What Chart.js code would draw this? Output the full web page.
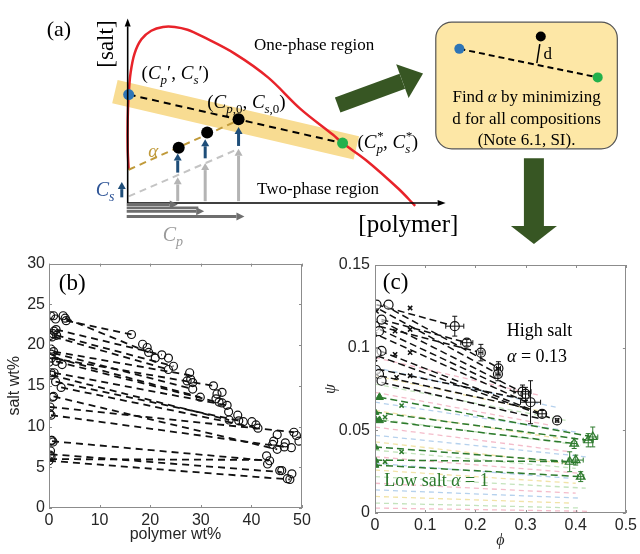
<!DOCTYPE html>
<html>
<head>
<meta charset="utf-8">
<script src="https://cdn.jsdelivr.net/npm/chart.js@4.4.0/dist/chart.umd.min.js"></script>
<style>
body { margin: 0; background: #fff; width: 640px; height: 554px; overflow: hidden; position: relative; }
canvas { position: absolute; }
#panelA { left: 0; top: 0; }
#panelB { left: 0; top: 250px; }
#panelC { left: 320px; top: 250px; }
</style>
</head>
<body>
<canvas id="panelB" width="320" height="304"></canvas>
<canvas id="panelC" width="320" height="304"></canvas>
<canvas id="panelA" width="640" height="250"></canvas>
<script>
// ---------- (a) schematic, arbitrary units ----------
const schemeBoundaryP = [0.1, 0.0, 0.0, 0.1, 0.3, 0.7, 1.4, 2.4, 3.6, 4.8, 6.1, 7.6, 10.9, 14.3, 17.6, 20.9, 21.9, 24.3, 27.6, 29.3];
const schemeBoundaryS = [3.5, 5.7, 8.7, 11.4, 13.7, 15.7, 17.2, 18.1, 18.5, 18.5, 18.2, 17.5, 15.7, 13.2, 9.9, 7.2, 6.3, 4.5, 1.5, -0.3];
const schemeTieP = [0.1, 21.9];
const schemeTieS = [11.4, 6.3];
const schemeBandP = [-1.3, 23.3];
const schemeBandS = [11.7, 5.8];
const schemeMixP = [5.2, 8.1, 11.3];
const schemeMixS = [5.8, 7.4, 8.8];
const schemeAlphaP = [0.1, 11.3];
const schemeAlphaS = [3.5, 8.7];
const schemeBaseP = [0.1, 11.3];
const schemeBaseS = [0.7, 5.7];
const boxLineP = [33.8, 47.9];
const boxLineS = [16.2, 13.2];
const boxDotP = [42.1];
const boxDotS = [17.5];
const boxDistP = [42.0, 41.7];
const boxDistS = [16.7, 14.7];

// ---------- (b) salt wt% vs polymer wt% ----------
const bLeftP = [0.3, 0.9, 1.3, 2.8, 3.2, 3.4, 0.3, 0.8, 1.4, 1.5, 0.6, 1.0, 0.4, 0.9, 0.4, 0.0, 0.5, 1.4, 2.6, 0.4, 1.0, 0.5, 1.3, 2.4, 0.9, 0.7, 0.2, 0.1, 0.4, 0.4, 0.8, 0.6, 0.3, 0.2, 0.4, 0.0];
const bLeftS = [23.6, 23.6, 23.2, 23.6, 23.3, 23.0, 21.2, 21.4, 21.9, 21.2, 21.0, 21.7, 19.5, 19.2, 18.9, 17.9, 18.4, 18.0, 17.6, 16.6, 16.6, 16.3, 15.5, 14.8, 13.7, 13.6, 12.4, 11.6, 11.4, 8.3, 8.1, 8.3, 7.0, 6.5, 6.3, 5.8];
const bRightP = [16.3, 18.5, 19.4, 19.7, 21.0, 22.3, 23.6, 23.6, 24.6, 27.3, 27.8, 28.0, 28.4, 28.4, 29.9, 32.5, 33.0, 33.2, 33.6, 34.2, 34.2, 35.2, 35.5, 35.6, 37.3, 37.5, 38.4, 40.1, 40.9, 41.3, 44.4, 44.2, 45.1, 45.1, 46.7, 46.5, 47.9, 48.4, 48.9, 49.4, 43.0, 43.6, 43.2, 45.6, 46.0, 47.1, 47.6, 48.0];
const bRightS = [21.3, 20.1, 19.7, 19.1, 18.4, 18.8, 18.4, 17.0, 17.4, 15.6, 16.6, 15.8, 15.4, 14.6, 13.6, 15.0, 13.4, 14.0, 13.0, 12.9, 14.2, 12.6, 11.8, 10.8, 11.4, 10.7, 10.6, 10.6, 10.2, 9.8, 8.2, 7.8, 9.0, 7.2, 8.0, 7.5, 7.4, 9.3, 8.9, 8.2, 6.4, 5.8, 5.4, 4.6, 4.6, 3.6, 3.5, 4.2];
const bTieP1 = [3.4, 3.2, 1.4, 1.5, 1.0, 1.0, 0.9, 1.4, 1.4, 0.5, 1.0, 0.5, 1.3, 2.4, 0.9, 0.2, 0.4, 0.6, 0.3, 0.2, 0.0];
const bTieS1 = [23.0, 23.3, 21.9, 21.2, 21.0, 19.2, 19.0, 18.4, 18.0, 18.4, 16.6, 16.3, 15.5, 14.8, 13.7, 12.4, 11.4, 8.2, 6.6, 6.0, 5.8];
const bTieP2 = [16.3, 19.7, 22.3, 24.6, 23.6, 27.8, 28.4, 29.9, 33.2, 32.5, 35.2, 35.6, 38.4, 41.3, 45.1, 48.4, 46.5, 43.4, 46.0, 43.6, 47.6];
const bTieS2 = [21.3, 19.1, 18.8, 17.4, 17.0, 16.3, 14.6, 13.6, 13.0, 15.0, 12.6, 10.8, 10.6, 9.8, 7.2, 9.3, 7.5, 5.8, 4.4, 5.9, 3.5];

// ---------- (c) psi vs phi ----------
const cHighLeftPhi = [0.003, 0.027, 0.013, 0.000, 0.008, 0.013, 0.003, 0.002, 0.008, 0.013];
const cHighLeftPsi = [0.126, 0.126, 0.117, 0.113, 0.110, 0.098, 0.097, 0.0865, 0.084, 0.080];
const cHighCrossPhi = [0.070, 0.003, 0.040, 0.070, 0.000, 0.040, 0.070, 0.000, 0.043, 0.070, 0.003];
const cHighCrossPsi = [0.124, 0.122, 0.110, 0.111, 0.108, 0.096, 0.097, 0.093, 0.082, 0.083, 0.084];
const cHighRightPhi = [0.159, 0.183, 0.211, 0.246, 0.245, 0.294, 0.300, 0.310, 0.333, 0.363];
const cHighRightPsi = [0.113, 0.103, 0.097, 0.0875, 0.084, 0.0734, 0.072, 0.067, 0.060, 0.056];
const cHighRightErrPhi = [0.018, 0.012, 0.004, 0.004, 0.004, 0.017, 0.006, 0.020, 0.008, 0.003];
const cHighRightErrPsi = [0.006, 0.002, 0.005, 0.004, 0.004, 0.004, 0.004, 0.013, 0.002, 0.001];
const cLowLeftPhi = [0.009, 0.000, 0.000, 0.009, 0.000, 0.000, 0.000];
const cLowLeftPsi = [0.070, 0.061, 0.057, 0.056, 0.040, 0.032, 0.029];
const cLowCrossPhi = [0.053, 0.020, 0.053, 0.020];
const cLowCrossPsi = [0.065, 0.058, 0.037, 0.031];
const cLowRightPhi = [0.397, 0.425, 0.434, 0.388, 0.400, 0.410];
const cLowRightPsi = [0.042, 0.044, 0.046, 0.031, 0.032, 0.022];
const cLowRightErrPhi = [0.005, 0.010, 0.010, 0.015, 0.015, 0.006];
const cLowRightErrPsi = [0.003, 0.004, 0.006, 0.006, 0.003, 0.003];
const cHighTieP1 = [0.016, 0.010, 0.003, 0.013, 0.008, 0.013, 0.010, 0.010, 0.010, 0.005, 0.005, 0.010, 0.013];
const cHighTieS1 = [0.126, 0.123, 0.126, 0.117, 0.113, 0.116, 0.111, 0.107, 0.098, 0.095, 0.087, 0.083, 0.079];
const cHighTieP2 = [0.245, 0.246, 0.159, 0.183, 0.211, 0.294, 0.300, 0.310, 0.333, 0.363, 0.294, 0.310, 0.330];
const cHighTieS2 = [0.088, 0.084, 0.113, 0.103, 0.097, 0.073, 0.070, 0.066, 0.060, 0.056, 0.069, 0.063, 0.057];
const cLowTieP1 = [0.009, 0.000, 0.009, 0.000, 0.000, 0.000];
const cLowTieS1 = [0.070, 0.061, 0.056, 0.040, 0.032, 0.029];
const cLowTieP2 = [0.434, 0.425, 0.397, 0.388, 0.400, 0.410];
const cLowTieS2 = [0.046, 0.044, 0.042, 0.031, 0.031, 0.022];
const cFaintS1 = [0.094, 0.088, 0.083, 0.078, 0.073, 0.067, 0.062, 0.057, 0.052, 0.047, 0.043, 0.038, 0.034, 0.030, 0.026, 0.022, 0.018, 0.014, 0.010, 0.006, 0.003];
const cFaintP2 = [0.33, 0.36, 0.34, 0.38, 0.35, 0.40, 0.37, 0.41, 0.39, 0.42, 0.38, 0.40, 0.41, 0.39, 0.40, 0.42, 0.40, 0.41, 0.39, 0.41, 0.43];
const cFaintS2 = [0.071, 0.064, 0.061, 0.056, 0.053, 0.049, 0.045, 0.041, 0.037, 0.034, 0.030, 0.027, 0.024, 0.021, 0.018, 0.015, 0.012, 0.009, 0.006, 0.003, 0.001];
const cFaintColors = ['rgba(240,160,180,0.7)', 'rgba(150,190,230,0.7)', 'rgba(235,215,130,0.7)', 'rgba(170,215,160,0.7)'];

Chart.defaults.animation = false;
const SERIF = '"Liberation Serif", "DejaVu Serif", serif';
const SANS = '"Liberation Sans", Arial, sans-serif';
const TXT = '#262626';
const GREEN = '#2d7a2d';

const pts = (xs, ys) => xs.map((x, i) => ({ x: x, y: ys[i] }));

function lineSet(x1, y1, x2, y2, color, width, dash, order) {
    return {
        data: [{ x: x1, y: y1 }, { x: x2, y: y2 }],
        showLine: true, pointRadius: 0, borderColor: color, borderWidth: width,
        borderDash: dash || [], order: order || 1, clip: false
    };
}

// rich text with italic / subscript parts
function richText(ctx, parts, cx, cy, size, color) {
    const font = p => (p.f === 'i' ? 'italic ' : '') + ((p.sub || p.sup) ? Math.round(size * 0.68) : size) + 'px ' + SERIF;
    const widths = parts.map(p => {
        ctx.font = font(p);
        let w = ctx.measureText(p.t).width;
        if (p.over) w = Math.max(w, ctx.measureText(p.over).width);
        return w;
    });
    let x = cx - widths.reduce((a, b) => a + b, 0) / 2;
    const base = cy + size * 0.33;
    ctx.fillStyle = color;
    ctx.textAlign = 'left';
    ctx.textBaseline = 'alphabetic';
    parts.forEach((p, i) => {
        ctx.font = font(p);
        const dy = p.sub ? size * 0.25 : p.sup ? -size * 0.38 : 0;
        ctx.fillText(p.t, x, base + dy);
        if (p.over) ctx.fillText(p.over, x, base - size * 0.42);
        x += widths[i];
    });
}

function arrow(ctx, x1, y1, x2, y2, color, w, hl, hw) {
    const a = Math.atan2(y2 - y1, x2 - x1);
    const bx = x2 - hl * Math.cos(a), by = y2 - hl * Math.sin(a);
    ctx.strokeStyle = color;
    ctx.lineWidth = w;
    ctx.lineCap = 'butt';
    ctx.setLineDash([]);
    ctx.beginPath(); ctx.moveTo(x1, y1); ctx.lineTo(bx, by); ctx.stroke();
    ctx.fillStyle = color;
    ctx.beginPath();
    ctx.moveTo(x2, y2);
    ctx.lineTo(bx + hw / 2 * Math.sin(a), by - hw / 2 * Math.cos(a));
    ctx.lineTo(bx - hw / 2 * Math.sin(a), by + hw / 2 * Math.cos(a));
    ctx.closePath(); ctx.fill();
}

// ---------- (a) plugin: box, arrows, labels ----------
const schemePlugin = {
    id: 'scheme',
    beforeDatasetsDraw(chart) {
        const { ctx, scales: { x, y } } = chart;
        const l = x.getPixelForValue(31.4), r = x.getPixelForValue(49.9);
        const t = y.getPixelForValue(19.0), b = y.getPixelForValue(5.7);
        ctx.save();
        ctx.fillStyle = '#fde7a6';
        ctx.strokeStyle = '#555';
        ctx.lineWidth = 1.2;
        ctx.beginPath();
        ctx.roundRect(l, t, r - l, b - t, 16);
        ctx.fill(); ctx.stroke();
        ctx.restore();
    },
    afterDatasetsDraw(chart) {
        const { ctx, scales: { x, y } } = chart;
        const X = v => x.getPixelForValue(v), Y = v => y.getPixelForValue(v);
        ctx.save();
        const arrows = [
            [0, 0, 0, 19.4, '#000', 1.6, 8, 6],
            [0, 0, 32.4, 0, '#000', 1.6, 8, 6],
            [5.1, 0.2, 5.1, 2.7, '#b4b4b4', 3, 7, 8],
            [7.9, 0.2, 7.9, 4.2, '#b4b4b4', 3, 7, 8],
            [11.3, 0.2, 11.3, 5.7, '#b4b4b4', 3, 7, 8],
            [5.1, 3.2, 5.1, 5.2, '#1f4e79', 3, 7, 8],
            [7.9, 4.7, 7.9, 6.7, '#1f4e79', 3, 7, 8],
            [11.3, 6.0, 11.3, 8.0, '#1f4e79', 3, 7, 8],
            [-0.6, 0.6, -0.6, 2.2, '#1f4e79', 3, 7, 8],
            [-0.1, -0.15, 5.1, -0.15, '#6e6e6e', 3, 8, 8],
            [-0.1, -0.85, 7.8, -0.85, '#6e6e6e', 3, 8, 8],
            [-0.1, -1.4, 11.9, -1.4, '#6e6e6e', 3, 8, 8],
            [21.4, 10.3, 30.1, 13.6, '#375623', 16, 22, 36],
            [41.4, 4.7, 41.4, -4.3, '#375623', 20, 18, 46]
        ];
        arrows.forEach(a => arrow(ctx, X(a[0]), Y(a[1]), X(a[2]), Y(a[3]), a[4], a[5], a[6], a[7]));
        // extra short bar under the first horizontal arrow
        ctx.strokeStyle = '#6e6e6e'; ctx.lineWidth = 2.5;
        ctx.beginPath(); ctx.moveTo(X(-0.1), Y(-0.5)); ctx.lineTo(X(7.2), Y(-0.5)); ctx.stroke();

        ctx.textAlign = 'center'; ctx.textBaseline = 'middle'; ctx.fillStyle = '#000';
        ctx.font = '22px ' + SERIF;
        ctx.fillText('(a)', X(-7.0), Y(18.2));
        ctx.font = '17px ' + SERIF;
        ctx.fillText('One-phase region', X(19.0), Y(16.5));
        ctx.fillText('Two-phase region', X(19.4), Y(1.4));
        ctx.font = '25px ' + SERIF;
        ctx.fillText('[polymer]', X(28.6), Y(-2.3));
        ctx.save();
        ctx.translate(X(-2.1), Y(16.7));
        ctx.rotate(-Math.PI / 2);
        ctx.font = '23px ' + SERIF;
        ctx.fillText('[salt]', 0, 0);
        ctx.restore();

        richText(ctx, [{ t: '(' }, { t: 'C', f: 'i' }, { t: 'p', f: 'i', sub: 1 }, { t: '′, ' }, { t: 'C', f: 'i' }, { t: 's', f: 'i', sub: 1 }, { t: '′)' }], X(4.85), Y(13.7), 19, '#000');
        richText(ctx, [{ t: '(' }, { t: 'C', f: 'i' }, { t: 'p', f: 'i', sub: 1 }, { t: ',0', sub: 1 }, { t: ', ' }, { t: 'C', f: 'i' }, { t: 's', f: 'i', sub: 1 }, { t: ',0', sub: 1 }, { t: ')' }], X(12.1), Y(10.6), 19, '#000');
        richText(ctx, [{ t: '(' }, { t: 'C', f: 'i' }, { t: 'p', f: 'i', sub: 1, over: '*' }, { t: ', ' }, { t: 'C', f: 'i' }, { t: 's', f: 'i', sub: 1, over: '*' }, { t: ')' }], X(26.5), Y(6.4), 19, '#000');
        richText(ctx, [{ t: 'α', f: 'i' }], X(2.6), Y(5.5), 19, '#c09a3a');
        richText(ctx, [{ t: 'C', f: 'i' }, { t: 's', f: 'i', sub: 1 }], X(-2.3), Y(1.4), 20, '#2f5597');
        richText(ctx, [{ t: 'C', f: 'i' }, { t: 'p', f: 'i', sub: 1 }], X(4.6), Y(-3.3), 20, '#9a9a9a');

        richText(ctx, [{ t: 'Find ' }, { t: 'α', f: 'i' }, { t: ' by minimizing' }], X(40.65), Y(11.2), 17, '#000');
        richText(ctx, [{ t: 'd for all compositions' }], X(40.65), Y(8.9), 17, '#000');
        richText(ctx, [{ t: '(Note 6.1, SI).' }], X(40.65), Y(6.7), 17, '#000');
        richText(ctx, [{ t: 'd' }], X(42.8), Y(15.7), 17, '#000');
        ctx.restore();
    }
};

new Chart(document.getElementById('panelA'), {
    type: 'scatter',
    data: {
        datasets: [
            { data: pts([schemeTieP[0]], [schemeTieS[0]]), pointRadius: 5.5, backgroundColor: '#2e75b6', borderWidth: 0, order: 0, clip: false },
            { data: pts([schemeTieP[1]], [schemeTieS[1]]), pointRadius: 5.5, backgroundColor: '#22b14c', borderWidth: 0, order: 0, clip: false },
            { data: pts(schemeMixP, schemeMixS), pointRadius: 6, backgroundColor: '#000', borderWidth: 0, order: 0, clip: false },
            { data: pts([boxLineP[0]], [boxLineS[0]]), pointRadius: 5, backgroundColor: '#2e75b6', borderWidth: 0, order: 0, clip: false },
            { data: pts([boxLineP[1]], [boxLineS[1]]), pointRadius: 5, backgroundColor: '#22b14c', borderWidth: 0, order: 0, clip: false },
            { data: pts(boxDotP, boxDotS), pointRadius: 5, backgroundColor: '#000', borderWidth: 0, order: 0, clip: false },
            lineSet(boxLineP[0], boxLineS[0], boxLineP[1], boxLineS[1], '#000', 2, [6, 4], 1),
            lineSet(boxDistP[0], boxDistS[0], boxDistP[1], boxDistS[1], '#000', 1.5, [], 1),
            lineSet(schemeTieP[0], schemeTieS[0], schemeTieP[1], schemeTieS[1], '#000', 2, [7, 5], 1),
            lineSet(schemeAlphaP[0], schemeAlphaS[0], schemeAlphaP[1], schemeAlphaS[1], '#c09a3a', 2, [7, 5], 2),
            lineSet(schemeBaseP[0], schemeBaseS[0], schemeBaseP[1], schemeBaseS[1], '#c4c4c4', 2, [7, 5], 2),
            { data: pts(schemeBoundaryP, schemeBoundaryS), showLine: true, tension: 0.35, pointRadius: 0, borderColor: '#e8232a', borderWidth: 2.5, order: 2, clip: false },
            { data: pts(schemeBandP, schemeBandS), showLine: true, pointRadius: 0, borderColor: '#f8dc92', borderWidth: 24, borderCapStyle: 'butt', order: 5, clip: false }
        ]
    },
    options: {
        responsive: false,
        layout: { padding: 0 },
        plugins: { legend: { display: false }, tooltip: { enabled: false } },
        scales: {
            x: { type: 'linear', display: false, min: -12.4, max: 51.6 },
            y: { type: 'linear', display: false, min: -4.3, max: 20.7 }
        }
    },
    plugins: [schemePlugin]
});

// ---------- shared plugins for (b) and (c) ----------
const framePlugin = {
    id: 'frame',
    afterDraw(chart) {
        const { ctx, chartArea: a, scales: { x, y } } = chart;
        ctx.save();
        ctx.strokeStyle = '#8c8c8c';
        ctx.lineWidth = 1;
        ctx.setLineDash([]);
        ctx.strokeRect(Math.round(a.left) + 0.5, Math.round(a.top) + 0.5, Math.round(a.width) - 1, Math.round(a.height) - 1);
        ctx.beginPath();
        x.ticks.forEach(t => {
            const px = Math.round(x.getPixelForValue(t.value)) + 0.5;
            ctx.moveTo(px, a.bottom); ctx.lineTo(px, a.bottom - 3);
            ctx.moveTo(px, a.top); ctx.lineTo(px, a.top + 3);
        });
        y.ticks.forEach(t => {
            const py = Math.round(y.getPixelForValue(t.value)) + 0.5;
            ctx.moveTo(a.left, py); ctx.lineTo(a.left + 3, py);
            ctx.moveTo(a.right, py); ctx.lineTo(a.right - 3, py);
        });
        ctx.stroke();
        ctx.restore();
    }
};

const errorBarPlugin = {
    id: 'errbars',
    afterDatasetsDraw(chart) {
        const { ctx, scales: { x, y } } = chart;
        ctx.save();
        ctx.setLineDash([]);
        chart.data.datasets.forEach(ds => {
            if (!ds.errX) return;
            ctx.strokeStyle = ds.borderColor;
            ctx.lineWidth = 1;
            ds.data.forEach((p, i) => {
                const px = x.getPixelForValue(p.x), py = y.getPixelForValue(p.y);
                const x0 = x.getPixelForValue(p.x - ds.errX[i]), x1 = x.getPixelForValue(p.x + ds.errX[i]);
                const y0 = y.getPixelForValue(p.y - ds.errY[i]), y1 = y.getPixelForValue(p.y + ds.errY[i]);
                ctx.beginPath();
                ctx.moveTo(x0, py); ctx.lineTo(x1, py);
                ctx.moveTo(x0, py - 2.5); ctx.lineTo(x0, py + 2.5);
                ctx.moveTo(x1, py - 2.5); ctx.lineTo(x1, py + 2.5);
                ctx.moveTo(px, y0); ctx.lineTo(px, y1);
                ctx.moveTo(px - 2.5, y0); ctx.lineTo(px + 2.5, y0);
                ctx.moveTo(px - 2.5, y1); ctx.lineTo(px + 2.5, y1);
                ctx.stroke();
            });
        });
        ctx.restore();
    }
};

function labelPlugin(items) {
    return {
        id: 'labels',
        afterDraw(chart) {
            const { ctx, scales: { x, y } } = chart;
            ctx.save();
            items.forEach(it => richText(ctx, it.parts, x.getPixelForValue(it.x), y.getPixelForValue(it.y), it.size, it.color));
            ctx.restore();
        }
    };
}

function axisOpts(min, max, step, title, titleFont, fit, titlePad, tickPad, fmt) {
    return {
        type: 'linear', min: min, max: max,
        afterFit: fit,
        grid: { display: false, drawTicks: false },
        border: { display: false },
        ticks: { stepSize: step, padding: tickPad, color: TXT, font: { family: SANS, size: 16 }, callback: fmt },
        title: { display: true, text: title, color: TXT, font: titleFont, padding: titlePad }
    };
}

// ---------- (b) ----------
const bDatasets = bTieP1.map((p, i) => lineSet(p, bTieS1[i], bTieP2[i], bTieS2[i], '#111', 1.8, [7, 5], 2));
bDatasets.push({ data: pts(bLeftP, bLeftS), pointRadius: 4, borderColor: '#111', borderWidth: 1.2, backgroundColor: 'rgba(0,0,0,0)', order: 1 });
bDatasets.push({ data: pts(bRightP, bRightS), pointRadius: 4, borderColor: '#111', borderWidth: 1.2, backgroundColor: 'rgba(0,0,0,0)', order: 1 });

new Chart(document.getElementById('panelB'), {
    type: 'scatter',
    data: { datasets: bDatasets },
    options: {
        responsive: false,
        layout: { padding: { left: 0, right: 18, top: 8, bottom: 0 } },
        plugins: { legend: { display: false }, tooltip: { enabled: false } },
        scales: {
            x: axisOpts(0, 50, 10, 'polymer wt%', { family: SANS, size: 16 }, s => { s.height = 46; }, { top: 0, bottom: 10 }, 3),
            y: axisOpts(0, 30, 5, 'salt wt%', { family: SANS, size: 16 }, s => { s.width = 49; }, { top: 5, bottom: 0 }, 4)
        }
    },
    plugins: [framePlugin, labelPlugin([{ parts: [{ t: '(b)' }], x: 4.6, y: 27.7, size: 23, color: '#000' }])]
});

// ---------- (c) ----------
const cDatasets = [];
cFaintS1.forEach((s, i) => cDatasets.push(lineSet(0, s, cFaintP2[i], cFaintS2[i], cFaintColors[i % 4], 1.3, [5, 4], 4)));
cHighTieP1.forEach((p, i) => cDatasets.push(lineSet(p, cHighTieS1[i], cHighTieP2[i], cHighTieS2[i], '#111', 1.5, [7, 4], 2)));
cLowTieP1.forEach((p, i) => cDatasets.push(lineSet(p, cLowTieS1[i], cLowTieP2[i], cLowTieS2[i], GREEN, 1.5, [7, 4], 2)));
cDatasets.push({ data: pts(cHighLeftPhi, cHighLeftPsi), pointRadius: 4.5, borderColor: '#111', borderWidth: 1.2, backgroundColor: 'rgba(255,255,255,0.6)', order: 0 });
cDatasets.push({ data: pts(cHighCrossPhi, cHighCrossPsi), pointStyle: 'crossRot', pointRadius: 3, borderColor: '#111', borderWidth: 1.5, order: 0 });
cDatasets.push({ data: pts(cHighRightPhi, cHighRightPsi), pointRadius: 4.5, borderColor: '#111', borderWidth: 1.2, backgroundColor: '#fff', order: 0, errX: cHighRightErrPhi, errY: cHighRightErrPsi });
cDatasets.push({ data: pts(cLowLeftPhi, cLowLeftPsi), pointStyle: 'triangle', pointRadius: 4.5, borderColor: GREEN, borderWidth: 1, backgroundColor: GREEN, order: 0 });
cDatasets.push({ data: pts(cLowCrossPhi, cLowCrossPsi), pointStyle: 'crossRot', pointRadius: 3, borderColor: GREEN, borderWidth: 1.5, order: 0 });
cDatasets.push({ data: pts(cLowRightPhi, cLowRightPsi), pointStyle: 'triangle', pointRadius: 5, borderColor: GREEN, borderWidth: 1.2, backgroundColor: '#fff', order: 0, errX: cLowRightErrPhi, errY: cLowRightErrPsi });

new Chart(document.getElementById('panelC'), {
    type: 'scatter',
    data: { datasets: cDatasets },
    options: {
        responsive: false,
        layout: { padding: { left: 0, right: 14, top: 15, bottom: 0 } },
        plugins: { legend: { display: false }, tooltip: { enabled: false } },
        scales: {
            x: axisOpts(0, 0.5, 0.1, 'ϕ', { family: SERIF, style: 'italic', size: 16 }, s => { s.height = 41; }, { top: 0, bottom: 4 }, 3, v => String(Math.round(v * 10) / 10)),
            y: axisOpts(0, 0.15, 0.05, 'ψ', { family: SERIF, style: 'italic', size: 16 }, s => { s.width = 55; }, { top: 1, bottom: 0 }, 5, v => String(Math.round(v * 100) / 100))
        }
    },
    plugins: [errorBarPlugin, framePlugin, labelPlugin([
        { parts: [{ t: '(c)' }], x: 0.041, y: 0.140, size: 23, color: '#000' },
        { parts: [{ t: 'High salt' }], x: 0.328, y: 0.1107, size: 18, color: '#000' },
        { parts: [{ t: 'α', f: 'i' }, { t: ' = 0.13' }], x: 0.323, y: 0.095, size: 18, color: '#000' },
        { parts: [{ t: 'Low salt ' }, { t: 'α', f: 'i' }, { t: ' = 1' }], x: 0.1225, y: 0.020, size: 18, color: GREEN }
    ])]
});
</script>
</body>
</html>
